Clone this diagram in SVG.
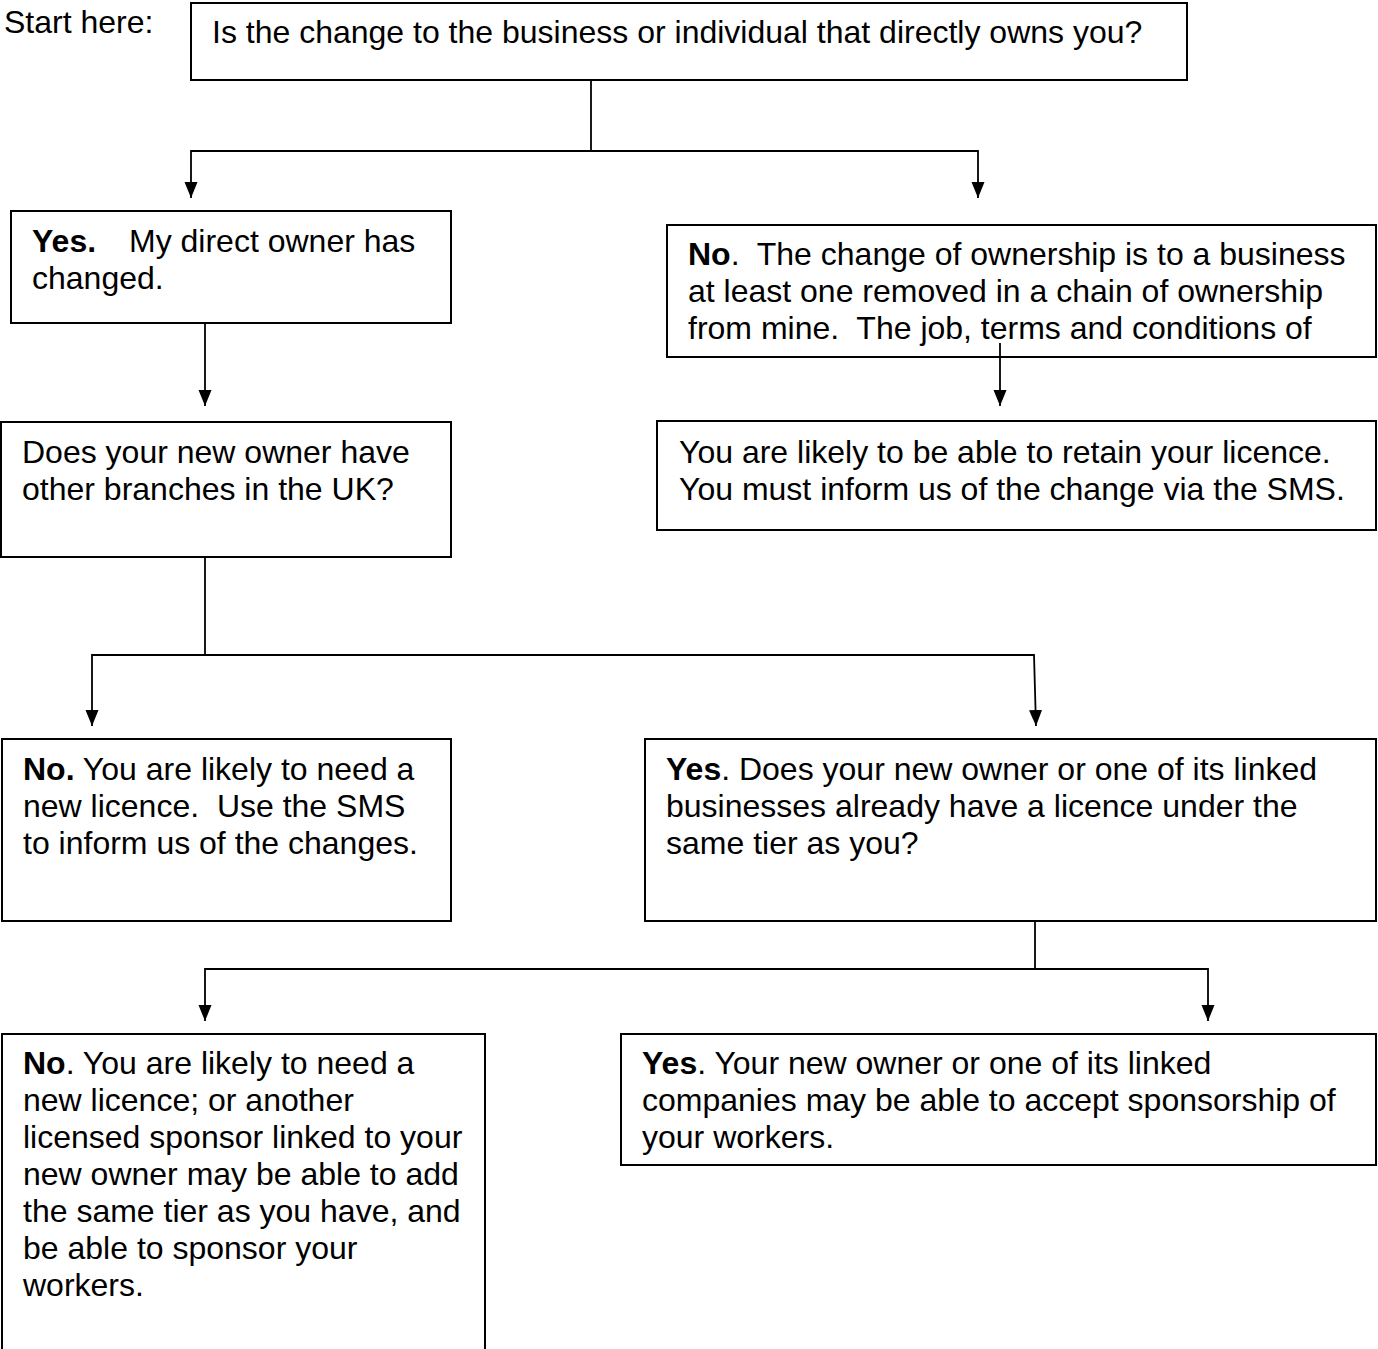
<svg xmlns="http://www.w3.org/2000/svg" width="1378" height="1349" viewBox="0 0 1378 1349">
<style>
text{font-family:"Liberation Sans",Arial,sans-serif;font-size:32px;fill:#000;white-space:pre}
.b{font-weight:bold}
.box{fill:#fff;stroke:#000;stroke-width:2}
.c{fill:none;stroke:#000;stroke-width:1.8}
</style>
<defs>
<marker id="ah" viewBox="0 0 16 14" refX="16" refY="7" markerWidth="16" markerHeight="14" markerUnits="userSpaceOnUse" orient="auto">
<path d="M0,0.5 L16,7 L0,13.5 z" fill="#000"/>
</marker>
</defs>
<rect width="1378" height="1349" fill="#fff"/>
<text x="4" y="33">Start here:</text>
<g id="n1">
<rect class="box" x="191" y="3" width="996" height="77"/>
<text x="212" y="43">Is the change to the business or individual that directly owns you?</text>
</g>
<g id="n2">
<rect class="box" x="11" y="211" width="440" height="112"/>
<text x="32" y="252"><tspan class="b">Yes.</tspan><tspan x="129">My direct owner has</tspan></text>
<text x="32" y="289">changed.</text>
</g>
<g id="n3">
<rect class="box" x="667" y="225" width="709" height="132"/>
<text x="688" y="265"><tspan class="b">No</tspan>.  The change of ownership is to a business</text>
<text x="688" y="302">at least one removed in a chain of ownership</text>
<text x="688" y="339">from mine.  The job, terms and conditions of</text>
</g>
<g id="n4">
<rect class="box" x="657" y="421" width="719" height="109"/>
<text x="679" y="463">You are likely to be able to retain your licence.</text>
<text x="679" y="500">You must inform us of the change via the SMS.</text>
</g>
<g id="n5">
<rect class="box" x="1" y="422" width="450" height="135"/>
<text x="22" y="463">Does your new owner have</text>
<text x="22" y="500">other branches in the UK?</text>
</g>
<g id="n6">
<rect class="box" x="2" y="739" width="449" height="182"/>
<text x="23" y="780"><tspan class="b">No.</tspan> You are likely to need a</text>
<text x="23" y="817">new licence.  Use the SMS</text>
<text x="23" y="854">to inform us of the changes.</text>
</g>
<g id="n7">
<rect class="box" x="645" y="739" width="731" height="182"/>
<text x="666" y="780"><tspan class="b">Yes</tspan>. Does your new owner or one of its linked</text>
<text x="666" y="817">businesses already have a licence under the</text>
<text x="666" y="854">same tier as you?</text>
</g>
<g id="n8">
<rect class="box" x="2" y="1034" width="483" height="320"/>
<text x="23" y="1074"><tspan class="b">No</tspan>. You are likely to need a</text>
<text x="23" y="1111">new licence; or another</text>
<text x="23" y="1148">licensed sponsor linked to your</text>
<text x="23" y="1185">new owner may be able to add</text>
<text x="23" y="1222">the same tier as you have, and</text>
<text x="23" y="1259">be able to sponsor your</text>
<text x="23" y="1296">workers.</text>
</g>
<g id="n9">
<rect class="box" x="621" y="1034" width="755" height="131"/>
<text x="642" y="1074"><tspan class="b">Yes</tspan>. Your new owner or one of its linked</text>
<text x="642" y="1111">companies may be able to accept sponsorship of</text>
<text x="642" y="1148">your workers.</text>
</g>
<g id="connectors">
<path class="c" d="M591,80 V151"/>
<path class="c" d="M591,151 H191 V198" marker-end="url(#ah)"/>
<path class="c" d="M591,151 H978 V198" marker-end="url(#ah)"/>
<path class="c" d="M205,323 V406" marker-end="url(#ah)"/>
<path class="c" d="M1000,343 V406" marker-end="url(#ah)"/>
<path class="c" d="M205,557 V655"/>
<path class="c" d="M205,655 H92 V726" marker-end="url(#ah)"/>
<path class="c" d="M205,655 H1034 L1036,726" marker-end="url(#ah)"/>
<path class="c" d="M1035,921 V969"/>
<path class="c" d="M1035,969 H205 V1021" marker-end="url(#ah)"/>
<path class="c" d="M1035,969 H1208 V1021" marker-end="url(#ah)"/>
</g>
</svg>
